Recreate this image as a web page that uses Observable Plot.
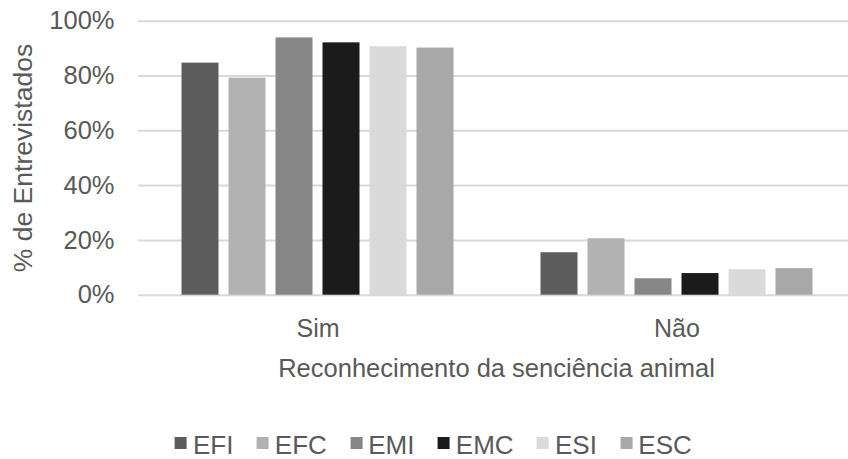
<!DOCTYPE html>
<html>
<head>
<meta charset="utf-8">
<script src="https://cdn.jsdelivr.net/npm/d3@7"></script>
<script src="https://cdn.jsdelivr.net/npm/@observablehq/plot@0.6"></script>
<style>
  html, body { margin: 0; padding: 0; background: #fff; overflow: hidden; }
  #wrap { position: relative; width: 848px; height: 459px; overflow: hidden; background: #fff;
          font-family: "Liberation Sans", Arial, sans-serif; color: #595959; }
  #wrap svg { max-width: none !important; display: block; }
  #wrap svg g[aria-label^="y-axis"] text { font-size: 25.5px; fill: #595959; }
  #wrap svg g[aria-label^="fx-axis"] text { font-size: 25px; fill: #595959; }
  .ov { position: absolute; line-height: 1; white-space: nowrap; }
  #ylabel { font-size: 26.5px; left: 22.5px; top: 158px; transform: translate(-50%, -50%) rotate(-90deg); }
  #xlabel { font-size: 25.5px; left: 496.5px; top: 355.5px; transform: translateX(-50%); }
  #legend { position: absolute; left: 433.4px; top: 431.5px; transform: translateX(-50%); display: flex; gap: 23.4px; font-size: 26px; line-height: 1; white-space: nowrap; }
  #legend .item { display: flex; align-items: flex-end; gap: 6px; }
  #legend .sw { width: 12px; height: 12px; margin-bottom: 9px; }
</style>
</head>
<body>
<div id="wrap"></div>
<script>
const categories = ["Sim", "Não"];
const series = ["EFI", "EFC", "EMI", "EMC", "ESI", "ESC"];
const simValues = [0.847, 0.792, 0.939, 0.921, 0.907, 0.902];
const naoValues = [0.155, 0.206, 0.060, 0.079, 0.093, 0.097];
const colors = ["#5d5d5d", "#b2b2b2", "#868686", "#1b1b1b", "#dadada", "#a8a8a8"];
const yTicks = [0, 0.2, 0.4, 0.6, 0.8, 1];
const yTitle = "% de Entrevistados";
const xTitle = "Reconhecimento da senciência animal";

const valuesByCat = [simValues, naoValues];
const data = categories.flatMap((c, i) => series.map((s, j) => ({cat: c, serie: s, value: valuesByCat[i][j]})));

const chart = Plot.plot({
  width: 857,
  height: 400,
  marginLeft: 137.5,
  marginRight: 0,
  marginTop: 20.7,
  marginBottom: 105.3,
  style: {fontFamily: "Liberation Sans, Arial, sans-serif", color: "#595959", background: "transparent", maxWidth: "none"},
  facet: {data, x: "cat", label: null},
  fx: {domain: categories, padding: 0, axis: "bottom", tickSize: 0, tickPadding: 24.5, label: null},
  x: {domain: series, paddingInner: 0.22, paddingOuter: 0.85, axis: null},
  y: {domain: [0, 1], ticks: yTicks, tickFormat: d => Math.round(d * 100) + "%", tickSize: 0, tickPadding: 24, label: null},
  color: {domain: series, range: colors},
  marks: [
    Plot.ruleY(yTicks, {stroke: "#d9d9d9", strokeWidth: 2}),
    Plot.barY(data, {x: "serie", y: "value", fill: "serie"})
  ]
});

const wrap = document.getElementById("wrap");
wrap.appendChild(chart);

const yl = document.createElement("div");
yl.id = "ylabel"; yl.className = "ov"; yl.textContent = yTitle;
wrap.appendChild(yl);

const xl = document.createElement("div");
xl.id = "xlabel"; xl.className = "ov"; xl.textContent = xTitle;
wrap.appendChild(xl);

const lg = document.createElement("div");
lg.id = "legend";
series.forEach((s, i) => {
  const item = document.createElement("div");
  item.className = "item";
  const sw = document.createElement("span");
  sw.className = "sw"; sw.style.background = colors[i];
  const t = document.createElement("span");
  t.textContent = s;
  item.appendChild(sw); item.appendChild(t);
  lg.appendChild(item);
});
wrap.appendChild(lg);
</script>
</body>
</html>
